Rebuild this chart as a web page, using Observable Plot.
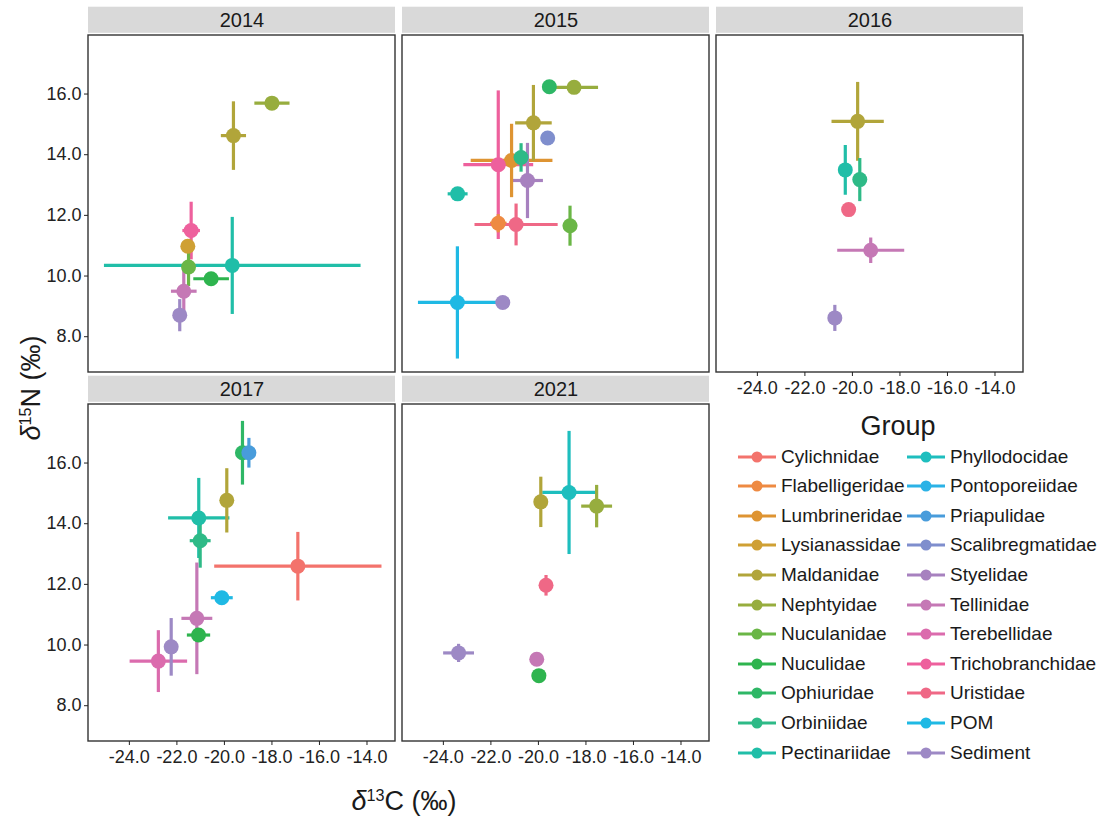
<!DOCTYPE html>
<html><head><meta charset="utf-8">
<script src="https://cdn.jsdelivr.net/npm/d3@7"></script>
<script src="https://cdn.jsdelivr.net/npm/@observablehq/plot@0.6"></script>
<style>
body{margin:0;background:#fff;font-family:"Liberation Sans",Arial,sans-serif;}
#wrap{position:relative;width:1108px;height:821px;overflow:hidden;background:#fff;}
#chart{position:absolute;left:0;top:0;}
.ttl{position:absolute;font-size:27px;color:#1a1a1a;white-space:nowrap;transform:translate(-50%,-50%);line-height:1;}
.ttl sup{font-size:0.6em;vertical-align:0.55em;line-height:0;}
.ttl i{font-style:italic;}
.lgtitle{position:absolute;font-size:27px;color:#1a1a1a;transform:translate(-50%,-50%);line-height:1;}
.lgitem{position:absolute;height:24px;display:flex;align-items:center;transform:translateY(-50%);font-size:19px;color:#1a1a1a;white-space:nowrap;}
.lgitem svg{margin-right:4px;flex:none;}
</style></head><body>
<div id="wrap"><div id="chart"></div></div>
<script>
// ---- categories & colours (legend order) ----
const groups = ["Cylichnidae","Flabelligeridae","Lumbrineridae","Lysianassidae","Maldanidae","Nephtyidae","Nuculanidae","Nuculidae","Ophiuridae","Orbiniidae","Pectinariidae","Phyllodocidae","Pontoporeiidae","Priapulidae","Scalibregmatidae","Styelidae","Tellinidae","Terebellidae","Trichobranchidae","Uristidae","POM","Sediment"];
const groupColors = ["#F3736C","#EE8A42","#DE9432","#CFA034","#B1A53A","#97AD3E","#6AB646","#2EB44E","#2EB766","#2EBA87","#20BEA8","#1EBEBE","#2BB2E6","#489CDB","#7F8ECD","#A781BF","#C578B5","#DB6BAD","#EE609D","#EF6886","#1FB9E4","#9D89C5"];

// ---- panels ----
const years = ["2014","2015","2016","2017","2021"];
const panelCol = [0,1,2,0,1];
const panelRow = [0,0,0,1,1];

// ---- values: [group, d13C mean, d13C sd, d15N mean, d15N sd] ----
const p2014 = [
  ["Nephtyidae",-18.00,0.74,15.70,0.12],
  ["Maldanidae",-19.62,0.53,14.63,1.13],
  ["Trichobranchidae",-21.40,0.37,11.50,0.95],
  ["Lysianassidae",-21.54,0,10.98,0],
  ["Nuculanidae",-21.51,0.2,10.30,0.63],
  ["Pectinariidae",-19.67,5.40,10.35,1.60],
  ["Nuculidae",-20.56,0.75,9.91,0.1],
  ["Tellinidae",-21.71,0.54,9.50,0.74],
  ["Sediment",-21.88,0.15,8.71,0.53]
];
const p2015 = [
  ["Ophiuridae",-19.54,0,16.24,0],
  ["Nephtyidae",-18.50,1.01,16.22,0],
  ["Maldanidae",-20.21,0.77,15.05,1.25],
  ["Scalibregmatidae",-19.61,0,14.55,0],
  ["Lumbrineridae",-21.13,1.72,13.81,1.21],
  ["Orbiniidae",-20.73,0.2,13.91,0.47],
  ["Trichobranchidae",-21.69,1.47,13.67,2.45],
  ["Styelidae",-20.46,0.65,13.15,1.24],
  ["Pectinariidae",-23.40,0.42,12.71,0.12],
  ["Flabelligeridae",-21.69,0.35,11.74,0.3],
  ["Uristidae",-20.94,1.75,11.70,0.69],
  ["Nuculanidae",-18.67,0.3,11.66,0.66],
  ["POM",-23.41,1.66,9.13,1.85],
  ["Sediment",-21.50,0,9.13,0]
];
const p2016 = [
  ["Maldanidae",-19.78,1.10,15.10,1.30],
  ["Pectinariidae",-20.30,0.1,13.50,0.82],
  ["Orbiniidae",-19.69,0.1,13.18,0.71],
  ["Uristidae",-20.16,0,12.19,0],
  ["Tellinidae",-19.23,1.41,10.85,0.42],
  ["Sediment",-20.74,0.15,8.62,0.43]
];
const p2017 = [
  ["Ophiuridae",-19.24,0.1,16.34,1.05],
  ["Priapulidae",-18.97,0.1,16.34,0.49],
  ["Maldanidae",-19.90,0.1,14.77,1.06],
  ["Pectinariidae",-21.08,1.29,14.19,1.32],
  ["Orbiniidae",-21.02,0.44,13.44,0.89],
  ["Cylichnidae",-16.91,3.52,12.60,1.13],
  ["POM",-20.11,0.46,11.56,0.1],
  ["Tellinidae",-21.16,0.65,10.88,1.84],
  ["Nuculidae",-21.09,0.49,10.33,0.15],
  ["Sediment",-22.24,0.1,9.94,0.95],
  ["Terebellidae",-22.78,1.21,9.47,1.02]
];
const p2021 = [
  ["Phyllodocidae",-18.71,1.13,15.03,2.03],
  ["Maldanidae",-19.90,0.1,14.72,0.83],
  ["Nephtyidae",-17.55,0.65,14.58,0.70],
  ["Uristidae",-19.68,0.1,11.97,0.34],
  ["Sediment",-23.36,0.65,9.74,0.3],
  ["Tellinidae",-20.07,0,9.53,0],
  ["Nuculidae",-19.98,0.3,8.99,0.12]
];

// ---- tick labels ----
const xTicks = [-24,-22,-20,-18,-16,-14];
const yTicks = [8,10,12,14,16];

const byYear = {"2014":p2014,"2015":p2015,"2016":p2016,"2017":p2017,"2021":p2021};
const rows = years.flatMap((yr,k)=>byYear[yr].map(([g,x,xe,y,ye])=>({year:yr,col:panelCol[k],row:panelRow[k],group:g,x,xe,y,ye})));
const panels = years.map((yr,k)=>({year:yr,col:panelCol[k],row:panelRow[k]}));

const W=1108,H=821,mT=35,mB=79,mL=87,mR=85;
const fyPad=0.0866, fxPad=0.0238;
const facetH=(H-mT-mB)/(2-fyPad)*(1-fyPad);

const chart = Plot.plot({
  width:W,height:H,marginTop:mT,marginBottom:mB,marginLeft:mL,marginRight:mR,
  style:{fontFamily:'"Liberation Sans", Arial, sans-serif',fontSize:"18px",color:"#1a1a1a",background:"transparent",overflow:"visible"},
  fx:{domain:[0,1,2],paddingInner:fxPad,paddingOuter:0,axis:null},
  fy:{domain:[0,1],paddingInner:fyPad,paddingOuter:0,axis:null},
  x:{domain:[-25.72,-12.8]},
  y:{domain:[6.82,17.93]},
  color:{domain:groups,range:groupColors},
  marks:[
    Plot.rect(panels,{fx:"col",fy:"row",fill:"#d9d9d9",insetTop:-28.3,insetBottom:facetH+1.7}),
    Plot.text(panels,{fx:"col",fy:"row",text:"year",frameAnchor:"top",lineAnchor:"middle",dy:-15,fontSize:20,fill:"#1a1a1a"}),
    Plot.rect(panels,{fx:"col",fy:"row",fill:"white",stroke:"#333",strokeWidth:1.4}),
    Plot.axisX({ticks:xTicks,tickFormat:d=>d.toFixed(1),tickSize:4,tickPadding:5,fontSize:18,color:"#222",facetAnchor:"bottom-empty",label:null}),
    Plot.axisY({ticks:yTicks,tickFormat:d=>d.toFixed(1),tickSize:4,tickPadding:3,fontSize:18,color:"#222",facetAnchor:"left",label:null}),
    Plot.link(rows.filter(d=>d.xe>0),{fx:"col",fy:"row",x1:d=>d.x-d.xe,x2:d=>d.x+d.xe,y1:"y",y2:"y",stroke:"group",strokeWidth:3.2}),
    Plot.link(rows.filter(d=>d.ye>0),{fx:"col",fy:"row",x1:"x",x2:"x",y1:d=>d.y-d.ye,y2:d=>d.y+d.ye,stroke:"group",strokeWidth:3.2}),
    Plot.dot(rows,{fx:"col",fy:"row",x:"x",y:"y",fill:"group",r:7.5})
  ]
});
const wrap=document.getElementById("wrap");
document.getElementById("chart").appendChild(chart);

// axis titles
const xt=document.createElement("div");xt.className="ttl";xt.style.left="404px";xt.style.top="801px";
xt.innerHTML="<i>δ</i><sup>13</sup>C (‰)";wrap.appendChild(xt);
const yt=document.createElement("div");yt.className="ttl";yt.style.left="31px";yt.style.top="388px";
yt.style.transform="translate(-50%,-50%) rotate(-90deg)";
yt.innerHTML="<i>δ</i><sup>15</sup>N (‰)";wrap.appendChild(yt);

// legend
const lt=document.createElement("div");lt.className="lgtitle";lt.style.left="898px";lt.style.top="426px";lt.textContent="Group";wrap.appendChild(lt);
groups.forEach((g,i)=>{
  const c=i<11?0:1, r=i%11;
  const it=document.createElement("div");it.className="lgitem";
  it.style.left=(c?906:737)+"px";it.style.top=(456.5+r*29.6)+"px";
  it.innerHTML=`<svg width="40" height="16"><line x1="1" x2="39" y1="8" y2="8" stroke="${groupColors[i]}" stroke-width="3"/><circle cx="20" cy="8" r="5.5" fill="${groupColors[i]}"/></svg><span>${g}</span>`;
  wrap.appendChild(it);
});
</script>
</body></html>
